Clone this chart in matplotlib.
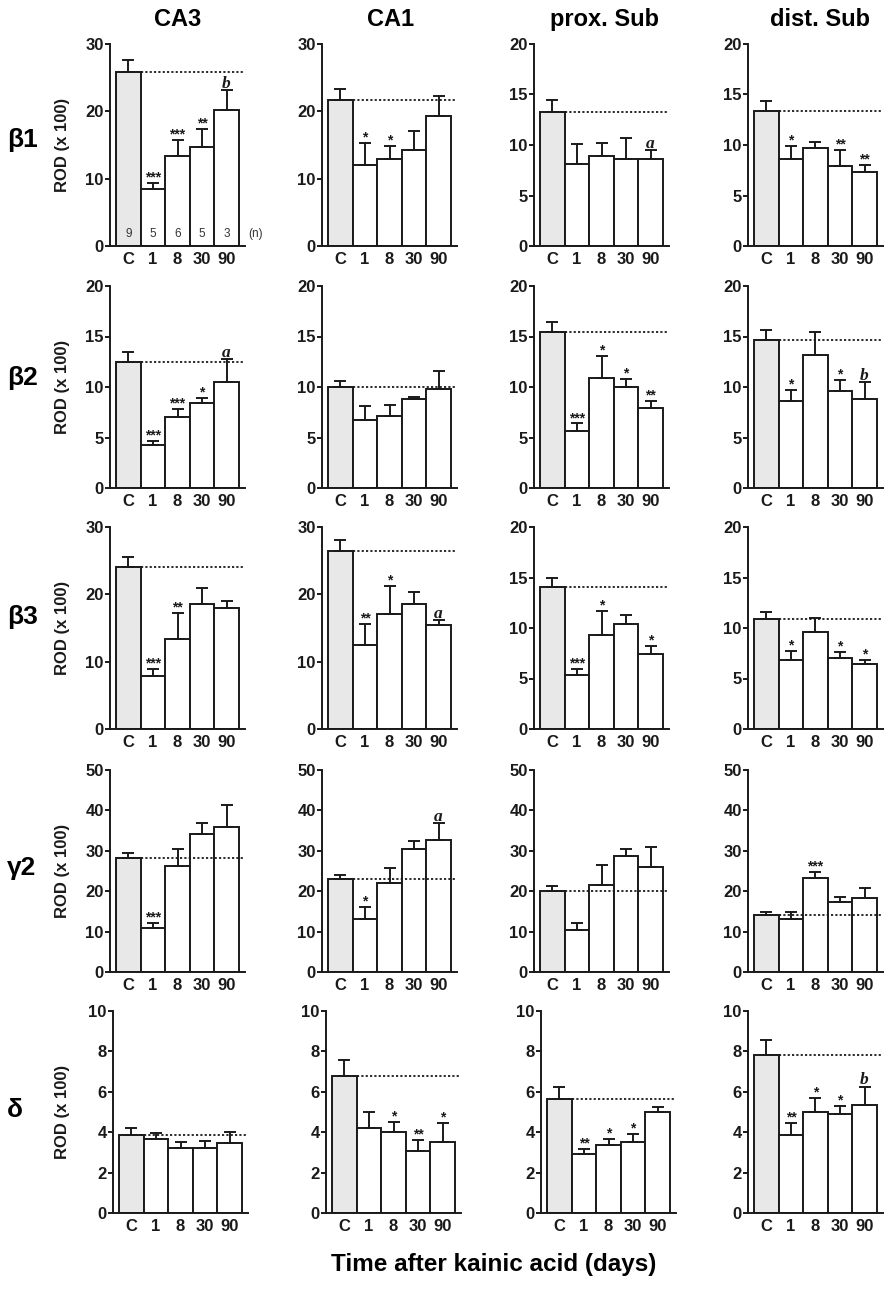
import matplotlib
matplotlib.use("Agg")
import matplotlib.pyplot as plt

# ---------------- data ----------------
regions = ["CA3", "CA1", "prox. Sub", "dist. Sub"]
subunits = ["β1", "β2", "β3", "γ2", "δ"]
days = ["C", "1", "8", "30", "90"]
n_per_group = ["9", "5", "6", "5", "3"]

# each list: [CA3, CA1, prox. Sub, dist. Sub]
b1_mean = [[25.8, 8.4, 13.4, 14.7, 20.2], [21.7, 12.1, 12.9, 14.2, 19.3],
           [13.3, 8.1, 8.9, 8.65, 8.65], [13.4, 8.6, 9.75, 7.9, 7.3]]
b1_sem = [[1.8, 1.0, 2.4, 2.7, 2.9], [1.6, 3.2, 2.0, 2.9, 3.0],
          [1.15, 1.95, 1.25, 2.0, 0.85], [1.0, 1.35, 0.55, 1.65, 0.75]]
b1_sig = [["", "***", "***", "**", "b"], ["", "*", "*", "", ""],
          ["", "", "", "", "a"], ["", "*", "", "**", "**"]]

b2_mean = [[12.45, 4.3, 7.0, 8.4, 10.45], [10.0, 6.75, 7.15, 8.85, 9.8],
           [15.45, 5.65, 10.9, 10.0, 7.9], [14.7, 8.6, 13.15, 9.6, 8.85]]
b2_sem = [[1.05, 0.4, 0.8, 0.5, 2.3], [0.6, 1.35, 1.05, 0.2, 1.75],
          [0.95, 0.75, 2.15, 0.8, 0.75], [0.9, 1.15, 2.25, 1.1, 1.6]]
b2_sig = [["", "***", "***", "*", "a"], ["", "", "", "", ""],
          ["", "***", "*", "*", "**"], ["", "*", "", "*", "b"]]

b3_mean = [[24.0, 7.9, 13.3, 18.6, 18.0], [26.5, 12.5, 17.1, 18.6, 15.5],
           [14.1, 5.35, 9.3, 10.35, 7.4], [10.87, 6.8, 9.62, 7.02, 6.43]]
b3_sem = [[1.55, 1.05, 3.9, 2.4, 1.05], [1.55, 3.1, 4.2, 1.8, 0.75],
          [0.9, 0.6, 2.4, 0.9, 0.86], [0.7, 0.9, 1.35, 0.6, 0.4]]
b3_sig = [["", "***", "**", "", ""], ["", "**", "*", "", "a"],
          ["", "***", "*", "", "*"], ["", "*", "", "*", "*"]]

g2_mean = [[28.1, 11.0, 26.3, 34.1, 35.9], [22.9, 13.1, 22.0, 30.4, 32.7],
           [20.1, 10.5, 21.6, 28.7, 26.0], [14.05, 13.0, 23.3, 17.3, 18.35]]
g2_sem = [[1.3, 1.25, 4.1, 2.8, 5.5], [1.1, 3.1, 3.8, 2.0, 4.2],
          [1.15, 1.55, 4.95, 1.75, 5.05], [0.75, 1.8, 1.5, 1.3, 2.5]]
g2_sig = [["", "***", "", "", ""], ["", "*", "", "", "a"],
          ["", "", "", "", ""], ["", "", "***", "", ""]]

d_mean = [[3.85, 3.65, 3.22, 3.22, 3.47], [6.76, 4.21, 4.0, 3.09, 3.52],
          [5.62, 2.93, 3.37, 3.52, 5.02], [7.8, 3.88, 5.02, 4.88, 5.34]]
d_sem = [[0.38, 0.3, 0.3, 0.36, 0.56], [0.8, 0.8, 0.5, 0.53, 0.96],
         [0.63, 0.23, 0.3, 0.4, 0.25], [0.75, 0.6, 0.68, 0.43, 0.92]]
d_sig = [["", "", "", "", ""], ["", "", "*", "**", "*"],
         ["", "**", "*", "*", ""], ["", "**", "*", "*", "b"]]

y_max = [[30, 30, 20, 20], [20, 20, 20, 20], [30, 30, 20, 20],
         [50, 50, 50, 50], [10, 10, 10, 10]]

means = [b1_mean, b2_mean, b3_mean, g2_mean, d_mean]
sems = [b1_sem, b2_sem, b3_sem, g2_sem, d_sem]
sigs = [b1_sig, b2_sig, b3_sig, g2_sig, d_sig]

# ---------------- layout ----------------
W, H = 892, 1291
plt.rcParams['font.family'] = ['Liberation Sans', 'DejaVu Sans']
plt.rcParams['font.weight'] = 'bold'
fig = plt.figure(figsize=(W / 100, H / 100), dpi=100)

col_left = [[110, 322, 534, 748]] * 4 + [[113, 326, 541, 748]]
row_top = [44, 286, 527, 770, 1011]
ax_w, ax_h = 135, 202
ink = '#1a1a1a'
lw = 1.4

for r in range(5):
    for c in range(4):
        L = col_left[r][c]
        T = row_top[r]
        ax = fig.add_axes([L / W, 1 - (T + ax_h) / H, ax_w / W, ax_h / H])
        m = means[r][c]
        e = sems[r][c]
        s = sigs[r][c]
        ym = y_max[r][c]
        x = list(range(len(days)))
        colors = ['#e8e8e8'] + ['white'] * (len(days) - 1)
        ax.bar(x, m, width=1.0, color=colors, edgecolor=ink, linewidth=lw, zorder=2)
        ax.errorbar(x, m, yerr=[[0] * len(m), e], fmt='none', ecolor=ink,
                    elinewidth=lw, capsize=4.5, capthick=lw, zorder=3)
        ax.plot([0, 4.75], [m[0], m[0]], color=ink, lw=1.3,
                linestyle=(0, (1.2, 1.2)), zorder=4)
        for i, lab in enumerate(s):
            if not lab:
                continue
            top = m[i] + e[i]
            if lab in ('a', 'b'):
                ax.annotate(lab, (i, top), xytext=(0, 1.5), textcoords='offset points',
                            ha='center', va='baseline', fontsize=12.5,
                            family=['Liberation Serif', 'DejaVu Serif'],
                            style='italic', weight='bold', color=ink, zorder=5)
            else:
                ax.annotate(lab, (i, top), xytext=(0, 1.0), textcoords='offset points',
                            ha='center', va='baseline', fontsize=10,
                            weight='bold', color=ink, zorder=5)
        ax.set_xlim(-0.75, 4.75)
        ax.set_ylim(0, ym)
        step = {30: 10, 20: 5, 50: 10, 10: 2}[ym]
        ax.set_yticks(list(range(0, ym + 1, step)))
        ax.set_xticks(x)
        ax.set_xticklabels(days)
        for sp in ('top', 'right'):
            ax.spines[sp].set_visible(False)
        for sp in ('left', 'bottom'):
            ax.spines[sp].set_linewidth(lw)
            ax.spines[sp].set_color(ink)
        ax.tick_params(axis='y', length=3.5, width=lw, pad=1, labelsize=12, colors=ink)
        ax.tick_params(axis='x', length=0, pad=4, labelsize=12, colors=ink)
        for t in ax.get_xticklabels() + ax.get_yticklabels():
            t.set_fontweight('bold')
        if r == 0 and c == 0:
            for i, n in enumerate(n_per_group):
                ax.annotate(n, (i, 0), xytext=(0, 4), textcoords='offset points',
                            ha='center', va='bottom', fontsize=8.5, weight='normal',
                            color='#333333', zorder=5)
            ax.annotate('(n)', (4.75, 0), xytext=(2, 4), textcoords='offset points',
                        ha='left', va='bottom', fontsize=8.5, weight='normal',
                        color='#333333', annotation_clip=False)

# column titles
title_x = [178, 391, 605, 820]
for c, name in enumerate(regions):
    fig.text(title_x[c] / W, 1 - 26 / H, name, ha='center', va='baseline',
             fontsize=17, weight='bold', color='black')

# row labels and y labels
row_label_y = [140, 378, 617, 868, 1110]
for r, name in enumerate(subunits):
    fig.text(7 / W, 1 - row_label_y[r] / H, name, ha='left', va='center',
             fontsize=19, weight='bold', color='black')
    yc = row_top[r] + ax_h / 2
    fig.text(63 / W, 1 - yc / H, 'ROD (x 100)', rotation=90, ha='center',
             va='center', fontsize=12, weight='bold', color=ink)

fig.text(494 / W, 1 - 1265 / H, 'Time after kainic acid (days)', ha='center',
         va='center', fontsize=17.5, weight='bold', color='black')

fig.savefig('out.png', dpi=100, facecolor='white')
